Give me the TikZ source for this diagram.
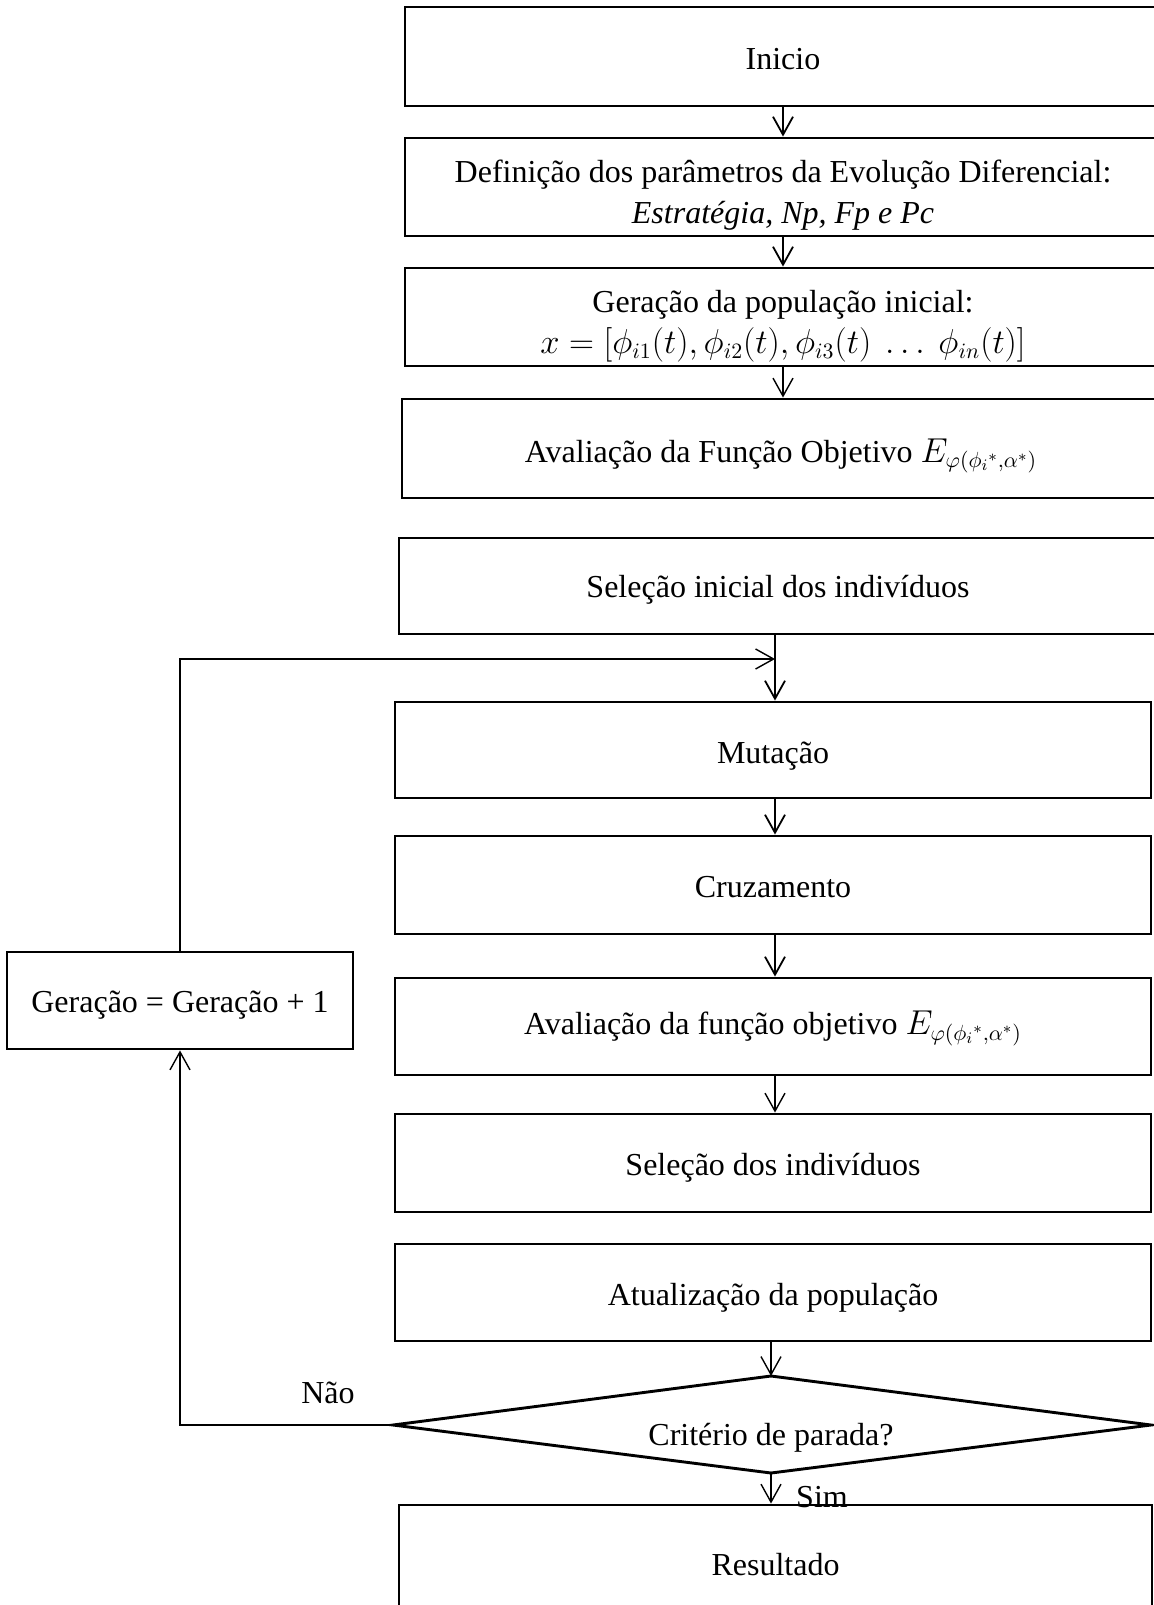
\documentclass[tikz,border=0pt]{standalone}
\usepackage{fontspec}
\setmainfont{Liberation Serif}
\usetikzlibrary{arrows.meta}
\begin{document}
\begin{tikzpicture}[x=0.5pt,y=-0.5pt,
  every node/.style={font=\fontsize{16}{20.5}\selectfont},
  box/.style={draw, line width=1.45pt, rectangle, inner sep=0pt},
  txt/.style={inner sep=0pt, align=center},
  arr/.style={-{Straight Barb[length=9pt,width=10pt]}, line width=0.9pt},
  thinarr/.style={-{Straight Barb[length=9pt,width=10pt]}, line width=0.7pt},
  lbl/.style={inner sep=0pt}]
\useasboundingbox (0,0) rectangle (1154,1605);
\clip (0,0) rectangle (1154,1605);
% boxes
\node[box, minimum width=378pt, minimum height=49.5pt] (inicio) at (783,56.5) {};
\node[box, minimum width=378pt, minimum height=49pt] (def) at (783,187) {};
\node[box, minimum width=378pt, minimum height=49pt] (genpop) at (783,317) {};
\node[box, minimum width=379pt, minimum height=49.5pt] (aval) at (781,448.5) {};
\node[box, minimum width=379pt, minimum height=48pt] (selinit) at (778,586) {};
\node[box, minimum width=378pt, minimum height=48pt] (mut) at (773,750) {};
\node[box, minimum width=378pt, minimum height=49pt] (cruz) at (773,885) {};
\node[box, minimum width=378pt, minimum height=48.5pt] (aval2) at (773,1026.5) {};
\node[box, minimum width=378pt, minimum height=49pt] (sel) at (773,1163) {};
\node[box, minimum width=378pt, minimum height=48.5pt] (atual) at (773,1292.5) {};
\node[box, minimum width=376.5pt, minimum height=60pt] (result) at (775.5,1565) {};
\node[box, minimum width=173pt, minimum height=48.5pt] (gen) at (180,1000.5) {};
% decision diamond
\coordinate (dt) at (771,1376);
\coordinate (dr) at (1151,1425);
\coordinate (db) at (771,1473);
\coordinate (dl) at (393,1425);
\draw[line width=1.45pt, line join=miter] (dt) -- (dr) -- (db) -- (dl) -- cycle;
% texts
\node[txt] (inicioT) at (783,59) {Inicio};
\node[txt] (defT) at (783,195)
  {Definição dos parâmetros da Evolução Diferencial:\\ \textit{Estratégia, Np, Fp e Pc}};
\node[txt] (genpopT) at (783,326)
  {Geração da população inicial:\\ $x=[\phi_{i1}(t),\phi_{i2}(t),\phi_{i3}(t)\ \ldots\ \phi_{in}(t)]$};
\node[txt] (avalT) at (781,456) {Avaliação da Função Objetivo $E_{\varphi(\phi_i{}^*,\alpha^*)}$};
\node[txt] (selinitT) at (778,590) {Seleção inicial dos indivíduos};
\node[txt] (mutT) at (773,756) {Mutação};
\node[txt] (cruzT) at (773,887) {Cruzamento};
\node[txt] (aval2T) at (773,1028.5) {Avaliação da função objetivo $E_{\varphi(\phi_i{}^*,\alpha^*)}$};
\node[txt] (selT) at (773,1168) {Seleção dos indivíduos};
\node[txt] (atualT) at (773,1298) {Atualização da população};
\begin{scope}
  \clip (500,1390) rectangle (1050,1451);
  \node[txt] (critT) at (771,1438) {Critério de parada?};
\end{scope}
\node[txt] (resultT) at (775.5,1565) {Resultado};
\node[txt] (genT) at (180,1005) {Geração = Geração + 1};
% labels
\node[lbl] (nao) at (328,1393) {Não};
\node[lbl] (sim) at (822,1497) {Sim};
% connector helpers
\coordinate (lx) at (775,0);
\coordinate (loopj) at (775,659);
% connectors
\draw[arr] (inicio.south) -- (def.north);
\draw[arr] (def.south) -- (genpop.north);
\draw[thinarr] (genpop.south) -- (genpop.south |- aval.north);
\draw[arr] (selinit.south -| lx) -- (mut.north -| lx);
\draw[thinarr] (gen.north) |- (loopj);
\draw[arr] (mut.south -| lx) -- (cruz.north -| lx);
\draw[arr] (cruz.south -| lx) -- (aval2.north -| lx);
\draw[thinarr] (aval2.south -| lx) -- (sel.north -| lx);
\draw[thinarr] (atual.south -| dt) -- (dt);
\draw[thinarr] (db) -- (db |- result.north);
\draw[thinarr] (dl) -| (gen.south);
\end{tikzpicture}
\end{document}
